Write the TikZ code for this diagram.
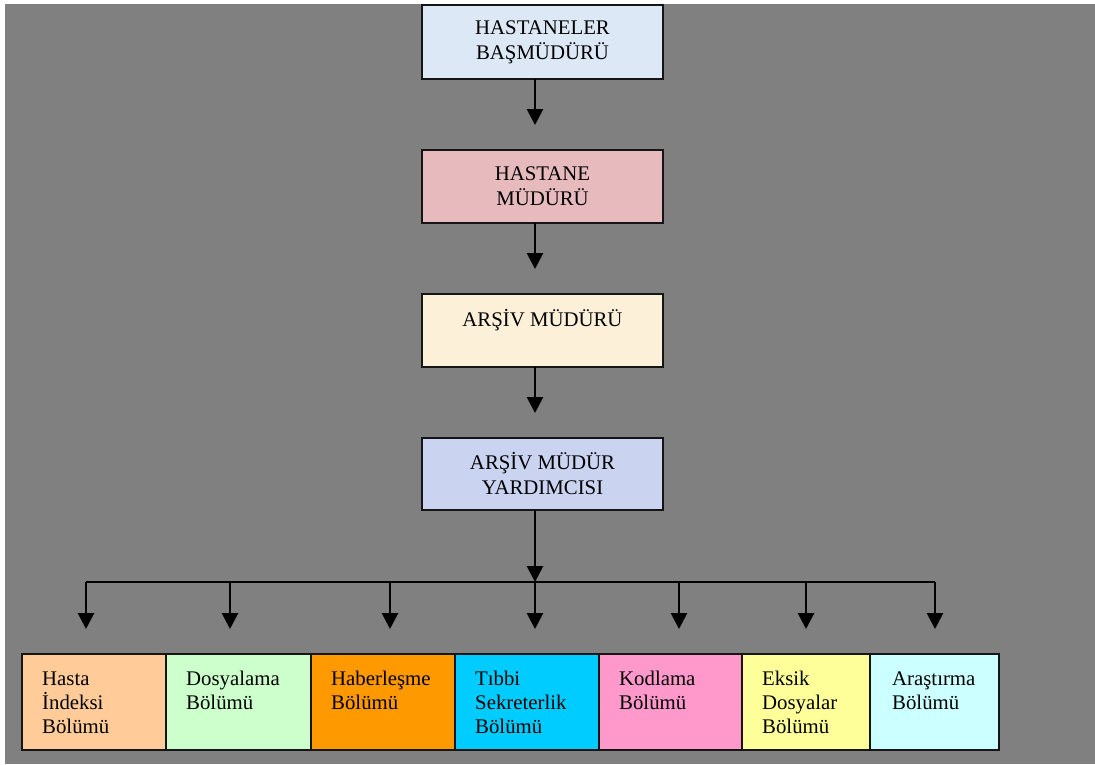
\documentclass[tikz,border=0pt]{standalone}
\usepackage{fontspec}
\setmainfont{Liberation Serif}
\usetikzlibrary{arrows.meta,calc}
\definecolor{bggray}{HTML}{808080}
\definecolor{cA}{HTML}{DCE8F6}
\definecolor{cB}{HTML}{E7BBBE}
\definecolor{cC}{HTML}{FCF0D9}
\definecolor{cD}{HTML}{CAD4F1}
\definecolor{u1}{HTML}{FFCC99}
\definecolor{u2}{HTML}{CCFFCC}
\definecolor{u3}{HTML}{FF9900}
\definecolor{u4}{HTML}{00CCFF}
\definecolor{u5}{HTML}{FF99CC}
\definecolor{u6}{HTML}{FFFF99}
\definecolor{u7}{HTML}{CCFFFF}
\definecolor{edge}{HTML}{151515}
\tikzset{
  topbox/.style={draw=edge, line width=1.8pt, minimum width=241pt, minimum height=73pt,
    inner sep=0pt, outer sep=0pt, align=center, font=\fontsize{20.8}{25}\selectfont},
  unitbox/.style={draw=edge, line width=1.8pt, minimum height=96pt, inner sep=0pt,
    outer sep=0pt, anchor=north west},
  unittext/.style={anchor=north west, inner sep=0pt, align=left,
    font=\fontsize{20.8}{24}\selectfont},
  arr/.style={line width=2.8pt, -{Triangle[width=16pt,length=16pt]}},
  busline/.style={line width=2.4pt},
}
\begin{document}
\begin{tikzpicture}[x=1pt,y=-1pt]
\useasboundingbox (0,0) rectangle (1095,764);
\fill[white] (0,0) rectangle (1095,764);
\fill[bggray] (5,4) rectangle (1095,764);

% top chain
\node[topbox, fill=cA, minimum height=74pt] (b1) at (542.5,42) {HASTANELER\\BAŞMÜDÜRÜ};
\node[topbox, fill=cB] (b2) at (542.5,186.5) {HASTANE\\MÜDÜRÜ};
\node[topbox, fill=cC] (b3) at (542.5,330.5) {ARŞİV MÜDÜRÜ\\\phantom{MÜDÜRÜ}};
\node[topbox, fill=cD, minimum height=72pt] (b4) at (542.5,474) {ARŞİV MÜDÜR\\YARDIMCISI};

\coordinate (t1) at (535,125);
\coordinate (t2) at (535,269);
\coordinate (t3) at (535,413);
\coordinate (t4) at (535,582);
\draw[arr] (b1.south -| t1) -- (t1);
\draw[arr] (b2.south -| t2) -- (t2);
\draw[arr] (b3.south -| t3) -- (t3);
\draw[arr] (b4.south -| t4) -- (t4);

% bus
\coordinate (busL) at (86,582);
\coordinate (busR) at (935,582);
\draw[busline] (busL) -- (busR);

% bottom units
\node[unitbox, fill=u1, minimum width=144pt] (h1) at (22,654) {};
\node[unitbox, fill=u2, minimum width=145pt] (h2) at (166,654) {};
\node[unitbox, fill=u3, minimum width=144pt] (h3) at (311,654) {};
\node[unitbox, fill=u4, minimum width=144pt] (h4) at (455,654) {};
\node[unitbox, fill=u5, minimum width=143pt] (h5) at (599,654) {};
\node[unitbox, fill=u6, minimum width=128pt] (h6) at (742,654) {};
\node[unitbox, fill=u7, minimum width=129pt] (h7) at (870,654) {};

\node[unittext] (x1) at ($(h1.north west)+(20,16)$) {\rule{0pt}{15pt}Hasta\\İndeksi\\Bölümü};
\node[unittext] (x2) at ($(h2.north west)+(20,16)$) {\rule{0pt}{15pt}Dosyalama\\Bölümü};
\node[unittext] (x3) at ($(h3.north west)+(20,16)$) {\rule{0pt}{15pt}Haberleşme\\Bölümü};
\node[unittext] (x4) at ($(h4.north west)+(20,16)$) {\rule{0pt}{15pt}Tıbbi\\Sekreterlik\\Bölümü};
\node[unittext] (x5) at ($(h5.north west)+(20,16)$) {\rule{0pt}{15pt}Kodlama\\Bölümü};
\node[unittext] (x6) at ($(h6.north west)+(20,16)$) {\rule{0pt}{15pt}Eksik\\Dosyalar\\Bölümü};
\node[unittext] (x7) at ($(h7.north west)+(22,16)$) {\rule{0pt}{15pt}Araştırma\\Bölümü};

% drops
\coordinate (d1) at (86,629);
\coordinate (d2) at (230,629);
\coordinate (d3) at (390,629);
\coordinate (d4) at (535,629);
\coordinate (d5) at (679,629);
\coordinate (d6) at (806,629);
\coordinate (d7) at (935,629);
\draw[arr] (busL) -- (d1);
\draw[arr] (d2 |- busL) -- (d2);
\draw[arr] (d3 |- busL) -- (d3);
\draw[arr] (t4) -- (d4);
\draw[arr] (d5 |- busL) -- (d5);
\draw[arr] (d6 |- busL) -- (d6);
\draw[arr] (busR) -- (d7);
\end{tikzpicture}
\end{document}
